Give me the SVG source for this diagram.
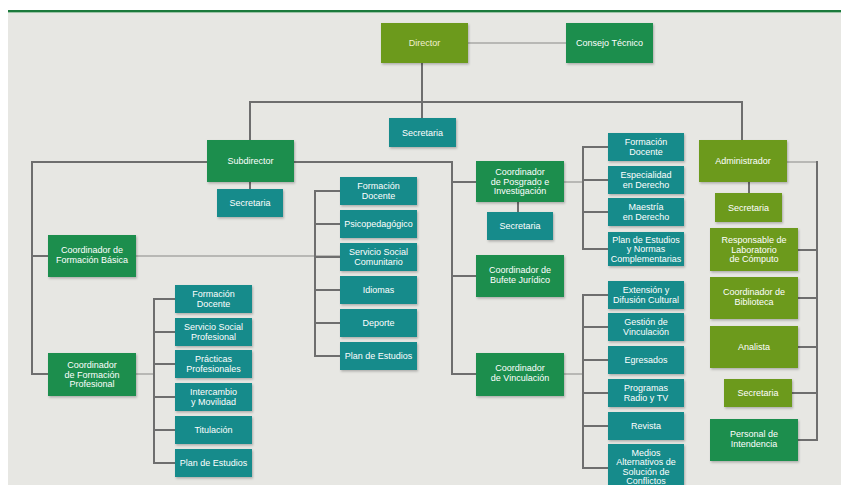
<svg xmlns="http://www.w3.org/2000/svg" width="841" height="485" viewBox="0 0 841 485">
<defs>
<filter id="sh" x="-10%" y="-10%" width="125%" height="130%">
<feDropShadow dx="1" dy="1.5" stdDeviation="1.2" flood-color="#000" flood-opacity="0.25"/>
</filter>
</defs>
<style>
.ol{fill:#6c9a1c;filter:url(#sh)}
.gr{fill:#1f8e4e;filter:url(#sh)}
.tl{fill:#178b8b;filter:url(#sh)}
text{font-family:"Liberation Sans",Arial,sans-serif;font-size:9px;fill:#ffffff;text-anchor:middle}
.c line{stroke:#6e6e6e;stroke-width:2}
.c line.lt{stroke:#a8a8a6;stroke-width:1.5}
</style>
<rect x="0" y="0" width="841" height="485" fill="#ffffff"/>
<rect x="8" y="12" width="833" height="473" fill="#e7e7e3"/>
<rect x="8" y="10" width="833" height="2" fill="#1b7a3c"/>
<rect x="8" y="12" width="833" height="1" fill="#9cc4a6"/>

<g class="c" id="connectors">
<line class="lt" x1="468" y1="43" x2="566" y2="43"/>
<line x1="422" y1="63" x2="422" y2="118"/>
<line x1="249" y1="102" x2="743" y2="102"/>
<line x1="250" y1="101" x2="250" y2="140"/>
<line x1="250" y1="182" x2="250" y2="189"/>
<line x1="742" y1="101" x2="742" y2="140"/>
<line x1="749" y1="182" x2="749" y2="193"/>
<line x1="31" y1="162" x2="207" y2="162"/>
<line x1="294" y1="162" x2="453" y2="162"/>
<line x1="32" y1="161" x2="32" y2="375"/>
<line x1="31" y1="256" x2="48" y2="256"/>
<line x1="31" y1="374" x2="48" y2="374"/>
<line class="lt" x1="136" y1="256" x2="340" y2="256"/>
<line x1="315" y1="190" x2="315" y2="357"/>
<line x1="314" y1="191" x2="340" y2="191"/>
<line x1="314" y1="224" x2="340" y2="224"/>
<line x1="314" y1="257" x2="340" y2="257"/>
<line x1="314" y1="290" x2="340" y2="290"/>
<line x1="314" y1="323" x2="340" y2="323"/>
<line x1="314" y1="356" x2="340" y2="356"/>
<line class="lt" x1="136" y1="374" x2="154" y2="374"/>
<line x1="154" y1="298" x2="154" y2="464"/>
<line x1="153" y1="299" x2="175" y2="299"/>
<line x1="153" y1="332" x2="175" y2="332"/>
<line x1="153" y1="364" x2="175" y2="364"/>
<line x1="153" y1="397" x2="175" y2="397"/>
<line x1="153" y1="430" x2="175" y2="430"/>
<line x1="153" y1="463" x2="175" y2="463"/>
<line x1="452" y1="161" x2="452" y2="375"/>
<line x1="451" y1="182" x2="476" y2="182"/>
<line x1="451" y1="276" x2="476" y2="276"/>
<line x1="451" y1="374" x2="476" y2="374"/>
<line x1="518" y1="202" x2="518" y2="212"/>
<line class="lt" x1="564" y1="182" x2="583" y2="182"/>
<line x1="583" y1="146" x2="583" y2="250"/>
<line x1="582" y1="147" x2="608" y2="147"/>
<line x1="582" y1="180" x2="608" y2="180"/>
<line x1="582" y1="212" x2="608" y2="212"/>
<line x1="582" y1="249" x2="608" y2="249"/>
<line class="lt" x1="564" y1="374" x2="583" y2="374"/>
<line x1="583" y1="294" x2="583" y2="469"/>
<line x1="582" y1="295" x2="608" y2="295"/>
<line x1="582" y1="327" x2="608" y2="327"/>
<line x1="582" y1="360" x2="608" y2="360"/>
<line x1="582" y1="393" x2="608" y2="393"/>
<line x1="582" y1="426" x2="608" y2="426"/>
<line x1="582" y1="468" x2="608" y2="468"/>
<line class="lt" x1="787" y1="162" x2="817" y2="162"/>
<line x1="817" y1="161" x2="817" y2="441"/>
<line x1="798" y1="250" x2="818" y2="250"/>
<line x1="798" y1="298" x2="818" y2="298"/>
<line x1="798" y1="347" x2="818" y2="347"/>
<line x1="792" y1="393" x2="818" y2="393"/>
<line x1="798" y1="440" x2="818" y2="440"/>
</g>

<g id="director"><rect class="ol" x="381" y="23" width="87" height="40"/><text x="424.5" y="46" style="fill:#f3f0cf">Director</text></g>
<g id="consejo"><rect class="gr" x="566" y="23" width="87" height="40"/><text x="609.5" y="46">Consejo Técnico</text></g>
<g id="sec-director"><rect class="tl" x="389" y="118" width="67" height="29"/><text x="422.5" y="135.5">Secretaria</text></g>

<g id="subdirector"><rect class="gr" x="207" y="140" width="87" height="42"/><text x="250.5" y="164">Subdirector</text></g>
<g id="sec-subdirector"><rect class="tl" x="217" y="189" width="66" height="28"/><text x="250" y="206">Secretaria</text></g>

<g id="coord-fb"><rect class="gr" x="48" y="235" width="88" height="42"/><text x="92" y="253">Coordinador de</text><text x="92" y="262.5">Formación Básica</text></g>
<g id="fb-1"><rect class="tl" x="340" y="177" width="77" height="28"/><text x="378.5" y="189">Formación</text><text x="378.5" y="198.5">Docente</text></g>
<g id="fb-2"><rect class="tl" x="340" y="210" width="77" height="28"/><text x="378.5" y="227">Psicopedagógico</text></g>
<g id="fb-3"><rect class="tl" x="340" y="243" width="77" height="28"/><text x="378.5" y="255">Servicio Social</text><text x="378.5" y="264.5">Comunitario</text></g>
<g id="fb-4"><rect class="tl" x="340" y="276" width="77" height="28"/><text x="378.5" y="293">Idiomas</text></g>
<g id="fb-5"><rect class="tl" x="340" y="309" width="77" height="28"/><text x="378.5" y="326">Deporte</text></g>
<g id="fb-6"><rect class="tl" x="340" y="342" width="77" height="28"/><text x="378.5" y="359">Plan de Estudios</text></g>

<g id="coord-fp"><rect class="gr" x="48" y="353" width="88" height="43"/><text x="92" y="368">Coordinador</text><text x="92" y="377.5">de Formación</text><text x="92" y="387">Profesional</text></g>
<g id="fp-1"><rect class="tl" x="175" y="285" width="77" height="28"/><text x="213.5" y="297">Formación</text><text x="213.5" y="306.5">Docente</text></g>
<g id="fp-2"><rect class="tl" x="175" y="318" width="77" height="28"/><text x="213.5" y="330">Servicio Social</text><text x="213.5" y="339.5">Profesional</text></g>
<g id="fp-3"><rect class="tl" x="175" y="350" width="77" height="28"/><text x="213.5" y="362">Prácticas</text><text x="213.5" y="371.5">Profesionales</text></g>
<g id="fp-4"><rect class="tl" x="175" y="383" width="77" height="28"/><text x="213.5" y="395">Intercambio</text><text x="213.5" y="404.5">y Movilidad</text></g>
<g id="fp-5"><rect class="tl" x="175" y="416" width="77" height="28"/><text x="213.5" y="433">Titulación</text></g>
<g id="fp-6"><rect class="tl" x="175" y="449" width="77" height="28"/><text x="213.5" y="466">Plan de Estudios</text></g>

<g id="coord-pos"><rect class="gr" x="476" y="161" width="88" height="41"/><text x="520" y="175">Coordinador</text><text x="520" y="184.5">de Posgrado e</text><text x="520" y="194">Investigación</text></g>
<g id="sec-pos"><rect class="tl" x="487" y="212" width="66" height="28"/><text x="520" y="229">Secretaria</text></g>
<g id="pos-1"><rect class="tl" x="608" y="133" width="76" height="28"/><text x="646" y="145">Formación</text><text x="646" y="154.5">Docente</text></g>
<g id="pos-2"><rect class="tl" x="608" y="166" width="76" height="28"/><text x="646" y="178">Especialidad</text><text x="646" y="187.5">en Derecho</text></g>
<g id="pos-3"><rect class="tl" x="608" y="198" width="76" height="28"/><text x="646" y="210">Maestría</text><text x="646" y="219.5">en Derecho</text></g>
<g id="pos-4"><rect class="tl" x="608" y="232" width="76" height="34"/><text x="646" y="242.5">Plan de Estudios</text><text x="646" y="252">y Normas</text><text x="646" y="261.5">Complementarias</text></g>

<g id="coord-bufete"><rect class="gr" x="476" y="255" width="88" height="42"/><text x="520" y="273">Coordinador de</text><text x="520" y="282.5">Bufete Jurídico</text></g>

<g id="coord-vin"><rect class="gr" x="476" y="353" width="88" height="43"/><text x="520" y="371">Coordinador</text><text x="520" y="380.5">de Vinculación</text></g>
<g id="vin-1"><rect class="tl" x="608" y="281" width="76" height="28"/><text x="646" y="293">Extensión y</text><text x="646" y="302.5">Difusión Cultural</text></g>
<g id="vin-2"><rect class="tl" x="608" y="313" width="76" height="28"/><text x="646" y="325">Gestión de</text><text x="646" y="334.5">Vinculación</text></g>
<g id="vin-3"><rect class="tl" x="608" y="346" width="76" height="28"/><text x="646" y="363">Egresados</text></g>
<g id="vin-4"><rect class="tl" x="608" y="379" width="76" height="28"/><text x="646" y="391">Programas</text><text x="646" y="400.5">Radio y TV</text></g>
<g id="vin-5"><rect class="tl" x="608" y="412" width="76" height="28"/><text x="646" y="429">Revista</text></g>
<g id="vin-6"><rect class="tl" x="608" y="444" width="76" height="46"/><text x="646" y="456">Medios</text><text x="646" y="465.3">Alternativos de</text><text x="646" y="474.6">Solución de</text><text x="646" y="483.9">Conflictos</text></g>

<g id="administrador"><rect class="ol" x="699" y="140" width="88" height="42"/><text x="743" y="164">Administrador</text></g>
<g id="sec-admin"><rect class="ol" x="715" y="193" width="67" height="29"/><text x="748.5" y="210.5">Secretaria</text></g>
<g id="lab"><rect class="ol" x="710" y="228" width="88" height="43"/><text x="754" y="243">Responsable de</text><text x="754" y="252.5">Laboratorio</text><text x="754" y="262">de Cómputo</text></g>
<g id="biblioteca"><rect class="ol" x="710" y="277" width="88" height="42"/><text x="754" y="295">Coordinador de</text><text x="754" y="304.5">Biblioteca</text></g>
<g id="analista"><rect class="ol" x="710" y="326" width="88" height="42"/><text x="754" y="350">Analista</text></g>
<g id="sec-admin2"><rect class="ol" x="724" y="379" width="68" height="28"/><text x="758" y="396">Secretaria</text></g>
<g id="intendencia"><rect class="gr" x="710" y="419" width="88" height="42"/><text x="754" y="437">Personal de</text><text x="754" y="446.5">Intendencia</text></g>
</svg>
